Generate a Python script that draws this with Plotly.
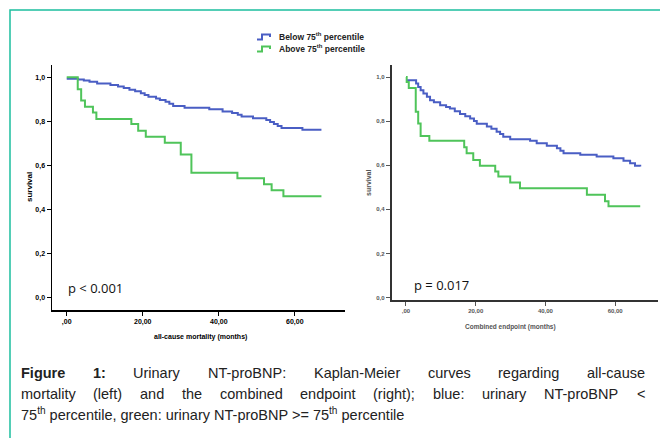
import plotly.graph_objects as go

W, H = 660, 438

# ---------------- data ----------------
# Left panel: all-cause mortality
left_blue_t = [0, 3, 4.5, 6, 8, 11.5, 13.5, 15, 16.5, 18, 19.5, 20.5, 21.5, 23.5, 24.5, 26, 27, 28, 31,
               37.5, 41, 43.5, 45, 46, 49, 52.5, 53.5, 54.5, 55.5, 56.5, 62, 67]
left_blue_s = [0.993, 0.990, 0.985, 0.980, 0.972, 0.965, 0.958, 0.951, 0.944, 0.937, 0.928, 0.920, 0.912,
               0.904, 0.897, 0.889, 0.880, 0.870, 0.862, 0.855, 0.845, 0.838, 0.830, 0.822, 0.814, 0.806,
               0.797, 0.788, 0.779, 0.770, 0.762, 0.762]
left_green_t = [0, 2.9, 3.8, 4.8, 6.9, 7.8, 17.0, 18.8, 20.8, 25.8, 30.0, 32.8, 44.9, 51.9, 53.9, 57.0, 67.0]
left_green_s = [1.0, 0.946, 0.895, 0.866, 0.841, 0.811, 0.788, 0.758, 0.731, 0.703, 0.650, 0.568, 0.542,
                0.515, 0.488, 0.461, 0.461]

# Right panel: combined endpoint
right_blue_t = [0, 2.9, 3.5, 4.2, 5, 6, 6.9, 8, 9.8, 11.5, 12.6, 14, 15.5, 17, 18.4, 19.5, 20.3, 23.2,
                24.5, 26, 27, 27.9, 29.9, 35.6, 37.5, 40.4, 43.3, 44.3, 45.2, 50, 54.7, 59.5, 62.4, 64.3,
                65.7, 67.2]
right_blue_s = [0.985, 0.970, 0.955, 0.940, 0.925, 0.910, 0.895, 0.885, 0.872, 0.864, 0.857, 0.845, 0.832,
                0.822, 0.812, 0.800, 0.788, 0.776, 0.765, 0.752, 0.741, 0.729, 0.718, 0.711, 0.700, 0.688,
                0.677, 0.665, 0.654, 0.647, 0.640, 0.632, 0.620, 0.609, 0.598, 0.594]
right_green_t = [0, 0.2, 0.8, 2.8, 3.5, 4.2, 6.7, 16.7, 17.4, 19.3, 21.2, 25.6, 26.5, 29.9, 32.7, 51.9,
                 57.1, 58.1, 67.2]
right_green_s = [1.0, 0.977, 0.950, 0.842, 0.789, 0.732, 0.711, 0.681, 0.654, 0.624, 0.597, 0.571, 0.549,
                 0.522, 0.496, 0.466, 0.436, 0.414, 0.414]

y_tickvals = [0.0, 0.2, 0.4, 0.6, 0.8, 1.0]
y_ticktext = ["0,0", "0,2", "0,4", "0,6", "0,8", "1,0"]
x_tickvals = [0, 20, 40, 60]
x_ticktext = [",00", "20,00", "40,00", "60,00"]

legend_labels = ["Below 75<sup>th</sup> percentile", "Above 75<sup>th</sup> percentile"]
p_texts = ["p < 0.001", "p = 0.017"]
x_titles = ["all-cause mortality (months)", "Combined endpoint (months)"]
y_title = "survival"

caption_line1 = [("Figure", True), ("1:", True), ("Urinary", False), ("NT-proBNP:", False),
                 ("Kaplan-Meier", False), ("curves", False), ("regarding", False), ("all-cause", False)]
caption_line2 = ["mortality", "(left)", "and", "the", "combined", "endpoint", "(right);", "blue:",
                 "urinary", "NT-proBNP", "<"]
caption_line3 = "75<sup>th</sup> percentile, green: urinary NT-proBNP >= 75<sup>th</sup> percentile"

BLUE = "#4a5ec4"
GREEN = "#4fc45a"
TEAL = "#1dbf9e"


def px(x):
    return x / W


def py(y):
    return 1 - y / H


fig = go.Figure()

for t, s, c, xa, ya, w in [
    (left_blue_t, left_blue_s, BLUE, "x", "y", 2),
    (left_green_t, left_green_s, GREEN, "x", "y", 2),
    (right_blue_t, right_blue_s, BLUE, "x2", "y2", 2),
    (right_green_t, right_green_s, GREEN, "x2", "y2", 2),
]:
    fig.add_trace(go.Scatter(x=t, y=s, mode="lines", xaxis=xa, yaxis=ya, showlegend=False,
                             hoverinfo="skip", line=dict(color=c, width=w, shape="hv")))

axis_common = dict(showgrid=False, zeroline=False, showline=True, ticks="outside", ticklen=4,
                   tickwidth=1, fixedrange=True)

fig.update_layout(
    width=W, height=H, margin=dict(l=0, r=0, t=0, b=0),
    paper_bgcolor="white", plot_bgcolor="white",
    xaxis=dict(domain=[px(52), px(345)], range=[-3.87, 73.2], anchor="y",
               tickvals=x_tickvals, ticktext=x_ticktext, linecolor="#000", linewidth=1.5, tickcolor="#000",
               tickfont=dict(family="Liberation Sans", size=7, color="#000", weight="bold"), **axis_common),
    yaxis=dict(domain=[py(310), py(65)], range=[-0.0544, 1.0557], anchor="x",
               tickvals=y_tickvals, ticktext=y_ticktext, linecolor="#000", linewidth=1.5, tickcolor="#000",
               tickfont=dict(family="Liberation Sans", size=7, color="#000", weight="bold"), **axis_common),
    xaxis2=dict(domain=[px(391.7), px(658)], range=[-4.1, 72.3], anchor="y2",
                tickvals=x_tickvals, ticktext=x_ticktext, linecolor="#333", linewidth=2, tickcolor="#555",
                tickfont=dict(family="Liberation Sans", size=6, color="#555", weight="bold"), **axis_common),
    yaxis2=dict(domain=[py(299.5), py(65)], range=[-0.009, 1.0544], anchor="x2",
                tickvals=y_tickvals, ticktext=y_ticktext, linecolor="#333", linewidth=2, tickcolor="#555",
                tickfont=dict(family="Liberation Sans", size=6, color="#555", weight="bold"), **axis_common),
)

ann = []
shapes = []


def A(**kw):
    d = dict(xref="paper", yref="paper", showarrow=False, xanchor="center", yanchor="middle")
    d.update(kw)
    ann.append(d)


# border frame
shapes.append(dict(type="rect", xref="paper", yref="paper", x0=px(10), x1=px(700), y0=py(480), y1=py(10),
                   line=dict(color=TEAL, width=1.5), fillcolor="rgba(0,0,0,0)", layer="below"))

# axis titles
A(x=px(29), y=py(187), text=y_title, textangle=-90,
  font=dict(family="Liberation Sans", size=8, color="#000", weight="bold"))
A(x=px(368), y=py(183), text=y_title, textangle=-90,
  font=dict(family="Liberation Sans", size=7, color="#555", weight="bold"))
A(x=px(200), y=py(337), text=x_titles[0],
  font=dict(family="Liberation Sans", size=7, color="#000", weight="bold"))
A(x=px(510), y=py(327), text=x_titles[1],
  font=dict(family="Liberation Sans", size=6.5, color="#555", weight="bold"))

# p values
A(x=px(66), y=py(288), text=p_texts[0], xanchor="left", font=dict(family="Open Sans", size=13, color="#111"))
A(x=px(412), y=py(285), text=p_texts[1], xanchor="left", font=dict(family="Open Sans", size=13, color="#111"))

# legend (step icons + labels)
for i, (lab, col) in enumerate(zip(legend_labels, [BLUE, GREEN])):
    yc = 37 + 12 * i
    path = "M {} {} L {} {} L {} {} L {} {} L {} {}".format(
        px(257), py(yc + 2.5), px(262), py(yc + 2.5), px(262), py(yc - 2.5), px(270), py(yc - 2.5),
        px(270), py(yc))
    shapes.append(dict(type="path", xref="paper", yref="paper", path=path, line=dict(color=col, width=2)))
    A(x=px(277), y=py(yc - 1), text=lab, xanchor="left",
      font=dict(family="Liberation Sans", size=8.5, color="#222", weight="bold"))

# ---------- caption (justified like the reference) ----------
AR = {' ': 278, '!': 278, '(': 333, ')': 333, '-': 333, '.': 278, ',': 278, ':': 278, ';': 278,
      '<': 584, '=': 584, '>': 584}
for d in "0123456789":
    AR[d] = 556
AR.update({'A': 667, 'B': 667, 'C': 722, 'D': 722, 'E': 667, 'F': 611, 'G': 778, 'H': 722, 'I': 278,
           'K': 667, 'L': 556, 'M': 833, 'N': 722, 'O': 778, 'P': 667, 'R': 722, 'S': 667, 'T': 611,
           'U': 722})
AR.update({'a': 556, 'b': 556, 'c': 500, 'd': 556, 'e': 556, 'f': 278, 'g': 556, 'h': 556, 'i': 222,
           'j': 222, 'k': 500, 'l': 222, 'm': 833, 'n': 556, 'o': 556, 'p': 556, 'q': 556, 'r': 333,
           's': 500, 't': 278, 'u': 556, 'v': 500, 'w': 722, 'x': 500, 'y': 500, 'z': 500})
ARB = dict(AR)
ARB.update({'F': 611, 'i': 278, 'g': 611, 'u': 611, 'r': 389, 'e': 556, '1': 556, ':': 333})

CAP_SIZE = 14.5
CAP_L, CAP_R = 20, 644
CAP_FONT = "Liberation Sans"


def wwidth(word, bold=False):
    tab = ARB if bold else AR
    return sum(tab.get(ch, 556) for ch in word) * CAP_SIZE / 1000.0


def justified(words, yc):
    widths = [wwidth(w, b) for w, b in words]
    gap = (CAP_R - CAP_L - sum(widths)) / (len(words) - 1)
    x = CAP_L
    for (w, b), wd in zip(words, widths):
        A(x=px(x), y=py(yc), text=w, xanchor="left", borderpad=0,
          font=dict(family=CAP_FONT, size=CAP_SIZE, color="#222", weight="bold" if b else "normal"))
        x += wd + gap


justified(caption_line1, 373)
justified([(w, False) for w in caption_line2], 394)
A(x=px(CAP_L), y=py(414), text=caption_line3, xanchor="left", borderpad=0,
  font=dict(family=CAP_FONT, size=CAP_SIZE, color="#222"))

fig.update_layout(annotations=ann, shapes=shapes)
fig.write_html("out.html", config={"displayModeBar": False, "staticPlot": True},
               post_script="document.body.style.margin='0';document.body.style.padding='0';")
